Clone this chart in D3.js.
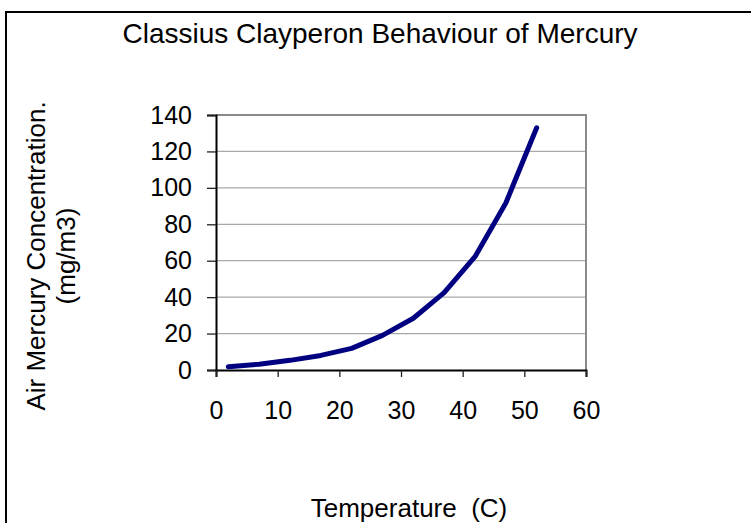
<!DOCTYPE html>
<html>
<head>
<meta charset="utf-8">
<script src="https://cdn.jsdelivr.net/npm/d3@7"></script>
<style>
  body { margin: 0; background: #fff; }
  text { font-family: "Liberation Sans", Arial, sans-serif; fill: #000; }
</style>
</head>
<body>
<svg id="chart" width="751" height="523"></svg>
<script>
// temperature (C) vs air mercury concentration (mg/m3)
const temps = [2, 7, 12, 17, 22, 27, 32, 37, 42, 47, 52];
const conc = [1.8, 3.2, 5.3, 8.0, 11.9, 19.0, 28.4, 42.5, 62.2, 91.7, 133.0];
const xTicks = [0, 10, 20, 30, 40, 50, 60];
const yTicks = [0, 20, 40, 60, 80, 100, 120, 140];

const svg = d3.select("#chart");
const plot = {left: 216, top: 115, right: 586, bottom: 370};

let x = d3.scaleLinear().domain([0, 60]).range([plot.left, plot.right]);
let y = d3.scaleLinear().domain([0, 140]).range([plot.bottom, plot.top]);

// outer chart frame (runs off the bottom/right of the picture)
svg.append("rect")
    .attr("x", 6).attr("y", 12)
    .attr("width", 800).attr("height", 600)
    .attr("fill", "none")
    .attr("stroke", "#000")
    .attr("stroke-width", 2);

// horizontal gridlines
svg.append("g")
    .selectAll("line")
    .data(yTicks.filter(d => d > 0 && d < 140))
    .enter()
    .append("line")
    .attr("x1", plot.left).attr("x2", plot.right)
    .attr("y1", d => y(d)).attr("y2", d => y(d))
    .attr("stroke", "#a8a8a8")
    .attr("stroke-width", 1.3);

// top + right border of plot area in gray
svg.append("path")
    .attr("d", `M${plot.left},${plot.top}H${plot.right}V${plot.bottom}`)
    .attr("fill", "none")
    .attr("stroke", "#8a8a8a")
    .attr("stroke-width", 2);

let yAxis = d3.axisLeft(y).tickValues(yTicks).tickSize(9).tickPadding(15);
let gy = svg.append("g")
    .attr("transform", `translate(${plot.left},0)`)
    .call(yAxis);

let xAxis = d3.axisBottom(x).tickValues(xTicks).tickSize(7).tickPadding(24);
let gx = svg.append("g")
    .attr("transform", `translate(0,${plot.bottom})`)
    .call(xAxis);

[gx, gy].forEach(g => {
    g.selectAll("path.domain").attr("stroke", "#000").attr("stroke-width", 2);
    g.selectAll(".tick line").attr("stroke", "#222").attr("stroke-width", 1.3);
    g.selectAll(".tick text")
        .style("font-family", '"Liberation Sans", Arial, sans-serif')
        .style("font-size", "25px")
        .attr("fill", "#000");
});

// the curve
let line = d3.line()
    .x((d, i) => x(temps[i]))
    .y(d => y(d));

svg.append("path")
    .datum(conc)
    .attr("d", line)
    .attr("fill", "none")
    .attr("stroke", "#000080")
    .attr("stroke-width", 5)
    .attr("stroke-linecap", "round")
    .attr("stroke-linejoin", "round");

// titles
svg.append("text")
    .attr("x", 380).attr("y", 43)
    .attr("text-anchor", "middle")
    .style("font-size", "28px")
    .text("Classius Clayperon Behaviour of Mercury");

svg.append("text")
    .attr("x", 409).attr("y", 517)
    .attr("text-anchor", "middle")
    .style("font-size", "26px")
    .style("white-space", "pre")
    .text("Temperature  (C)");

let yTitle = svg.append("text")
    .attr("transform", "translate(0,256) rotate(-90)")
    .attr("text-anchor", "middle")
    .style("font-size", "26px");
yTitle.append("tspan").attr("x", 0).attr("y", 45).text("Air Mercury Concentration.");
yTitle.append("tspan").attr("x", 0).attr("y", 75).text("(mg/m3)");
</script>
</body>
</html>
